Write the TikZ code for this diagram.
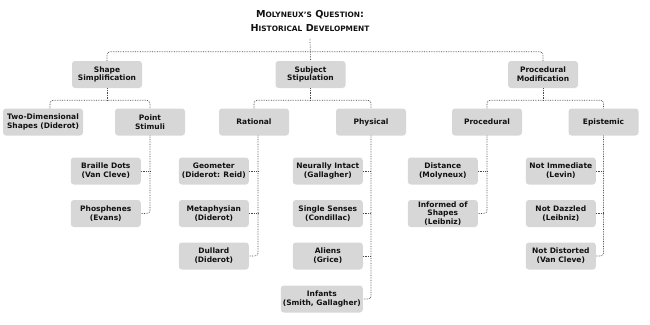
\documentclass[tikz,border=0pt]{standalone}
\usepackage{fontspec}
\setmainfont{DejaVu Sans}
\definecolor{boxgray}{HTML}{D7D7D7}
\definecolor{textdark}{HTML}{111111}
\definecolor{linkgray}{HTML}{4A4A4A}
\newcommand{\boxfont}{\bfseries\fontsize{7.5}{8.8}\selectfont}
\newcommand{\smc}[1]{{\fontsize{7.4}{9}\selectfont #1}}
\begin{document}
\begin{tikzpicture}[x=1pt,y=-1pt,
    box/.style={fill=boxgray,rounded corners=3pt,minimum width=70pt,minimum height=27pt,
      inner xsep=2pt,inner ysep=1pt,align=center,font=\boxfont,text=textdark},
    link/.style={densely dotted,linkgray,line width=0.7pt,rounded corners=3pt}]
    \useasboundingbox (0,0) rectangle (650,324);
    % title
    \node[align=center,inner sep=0pt,font=\bfseries\fontsize{9.6}{14}\selectfont,text=textdark] (title) at (310,21)
      {M\smc{OLYNEUX'S} Q\smc{UESTION}:\\H\smc{ISTORICAL} D\smc{EVELOPMENT}};
    % first level
    \node[box] (shape) at (107,74.5) {Shape\\Simplification};
    \node[box] (subject) at (310.5,74.5) {Subject\\Stipulation};
    \node[box] (procmod) at (543,74.5) {Procedural\\Modification};
    % second level
    \node[box,minimum width=80pt] (twod) at (43,122) {Two-Dimensional\\Shapes (Diderot)};
    \node[box] (point) at (150,122) {Point\\Stimuli};
    \node[box] (rational) at (254,122) {Rational};
    \node[box] (physical) at (371,122) {Physical};
    \node[box] (procedural) at (487,122) {Procedural};
    \node[box] (epistemic) at (603.5,122) {Epistemic};
    % third level
    \node[box,anchor=east] (braille) at (141,171) {Braille Dots\\(Van Cleve)};
    \node[box,anchor=east] (phosphenes) at (141,213.5) {Phosphenes\\(Evans)};
    \node[box,anchor=east] (geometer) at (249,171) {Geometer\\(Diderot: Reid)};
    \node[box,anchor=east] (metaphysian) at (249,213.5) {Metaphysian\\(Diderot)};
    \node[box,anchor=east] (dullard) at (249,256) {Dullard\\(Diderot)};
    \node[box,anchor=east] (neurally) at (363,171) {Neurally Intact\\(Gallagher)};
    \node[box,anchor=east] (senses) at (363,213.5) {Single Senses\\(Condillac)};
    \node[box,anchor=east] (aliens) at (363,256) {Aliens\\(Grice)};
    \node[box,anchor=east,minimum width=82pt] (infants) at (363,299) {Infants\\(Smith, Gallagher)};
    \node[box,anchor=east] (distance) at (478,171) {Distance\\(Molyneux)};
    \node[box,anchor=east] (informed) at (478,213.5) {Informed of\\Shapes\\(Leibniz)};
    \node[box,anchor=east] (immediate) at (596,171) {Not Immediate\\(Levin)};
    \node[box,anchor=east] (dazzled) at (596,213.5) {Not Dazzled\\(Leibniz)};
    \node[box,anchor=east] (distorted) at (596,256) {Not Distorted\\(Van Cleve)};
    % top connectors
    \draw[link] ([yshift=-7pt]title.south) -- (subject.north);
    \draw[link] (shape.north) -- ++(0,-9) -| (procmod.north);
    % second level connectors
    \draw[link] (shape.south) -- ++(0,12);
    \draw[link] ([xshift=7pt]twod.north) -- ++(0,-8) -| (point.north);
    \draw[link] (subject.south) -- ++(0,12);
    \draw[link] (rational.north) -- ++(0,-8) -| (physical.north);
    \draw[link] (procmod.south) -- ++(0,12);
    \draw[link] (procedural.north) -- ++(0,-8) -| (epistemic.north);
    % third level connectors
    \coordinate (ratbus) at ([xshift=4pt]rational.south);
    \draw[link] (point.south) |- (phosphenes.east);
    \draw[link] (braille.east) -- (braille.east -| point.south);
    \draw[link] (ratbus) |- (dullard.east);
    \draw[link] (geometer.east) -- (geometer.east -| ratbus);
    \draw[link] (metaphysian.east) -- (metaphysian.east -| ratbus);
    \draw[link] (physical.south) |- (infants.east);
    \draw[link] (neurally.east) -- (neurally.east -| physical.south);
    \draw[link] (senses.east) -- (senses.east -| physical.south);
    \draw[link] (aliens.east) -- (aliens.east -| physical.south);
    \draw[link] (procedural.south) |- (informed.east);
    \draw[link] (distance.east) -- (distance.east -| procedural.south);
    \draw[link] (epistemic.south) |- (distorted.east);
    \draw[link] (immediate.east) -- (immediate.east -| epistemic.south);
    \draw[link] (dazzled.east) -- (dazzled.east -| epistemic.south);
\end{tikzpicture}
\end{document}
